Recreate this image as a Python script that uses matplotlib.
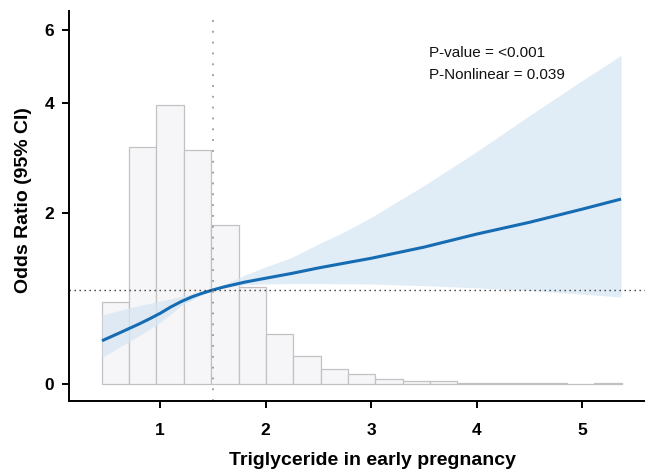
import numpy as np
import matplotlib
matplotlib.use("Agg")
import matplotlib.pyplot as plt

plt.rcParams['font.family'] = ['Liberation Sans', 'DejaVu Sans']

# ---- data ----
tg_x = [0.45, 0.60, 0.80, 0.90, 1.00, 1.10, 1.20, 1.30, 1.40, 1.50, 1.60, 1.80,
        2.00, 2.25, 2.50, 2.75, 3.00, 3.50, 4.00, 4.50, 5.00, 5.37]
or_fit = [0.462, 0.537, 0.639, 0.694, 0.752, 0.819, 0.877, 0.926, 0.966, 1.000,
          1.038, 1.101, 1.152, 1.215, 1.285, 1.348, 1.410, 1.554, 1.723, 1.875,
          2.064, 2.249]
or_upper = [0.735, 0.779, 0.834, 0.858, 0.882, 0.906, 0.931, 0.962, 0.990, 1.000,
            1.067, 1.191, 1.298, 1.423, 1.594, 1.755, 1.938, 2.494, 3.115, 3.773,
            4.617, 5.307]
or_lower = [0.284, 0.384, 0.514, 0.584, 0.654, 0.743, 0.832, 0.893, 0.947, 1.000,
            1.026, 1.067, 1.078, 1.084, 1.083, 1.081, 1.078, 1.057, 1.028, 0.996,
            0.957, 0.926]

hist_min, hist_max = 0.447, 5.376
hist_counts = [164, 475, 558, 468, 319, 195, 100, 57, 31, 20, 11, 6, 7, 3, 2, 2, 2, 1, 2]

ref_x = 1.5
ref_or = 1.0
x_ticks = [1, 2, 3, 4, 5]
y_ticks = [0, 2, 4, 6]
p_texts = ["P-value = <0.001", "P-Nonlinear = 0.039"]
xlabel = "Triglyceride in early pregnancy"
ylabel = "Odds Ratio (95% CI)"

# ---- y-axis scale (non-linear OR axis as in the reference) ----
K_OR = np.array([0.0, 1.0, 2.0, 4.0, 6.0])
K_H = np.array([0.0, 94.3, 171.6, 281.0, 354.3])
s0 = (K_H[1] - K_H[0]) / (K_OR[1] - K_OR[0])
s1 = (K_H[-1] - K_H[-2]) / (K_OR[-1] - K_OR[-2])


def fwd(v):
    v = np.asarray(v, dtype=float)
    out = np.interp(v, K_OR, K_H)
    out = np.where(v < K_OR[0], v * s0, out)
    out = np.where(v > K_OR[-1], K_H[-1] + (v - K_OR[-1]) * s1, out)
    return out


def inv(h):
    h = np.asarray(h, dtype=float)
    out = np.interp(h, K_H, K_OR)
    out = np.where(h < K_H[0], h / s0, out)
    out = np.where(h > K_H[-1], K_OR[-1] + (h - K_H[-1]) / s1, out)
    return out


W, H = 645, 472
fig = plt.figure(figsize=(W / 100, H / 100), dpi=100)
ax_l, ax_r, ax_b, ax_t = 69.3, 645.0, 401.0, 11.0
ax = fig.add_axes([ax_l / W, 1 - ax_b / H, (ax_r - ax_l) / W, (ax_b - ax_t) / H])
ax_h = ax.twinx()
ax.set_zorder(ax_h.get_zorder() + 1)
ax.patch.set_visible(False)

# histogram
edges = np.linspace(hist_min, hist_max, len(hist_counts) + 1)
ax_h.bar(edges[:-1], hist_counts, width=np.diff(edges), align='edge',
         color='#f6f5f7', edgecolor='#c2c2c2', linewidth=0.9)
ax_h.set_ylim(-33.4, 746.6)
ax_h.set_yticks([])
for s in ax_h.spines.values():
    s.set_visible(False)

# curve
ax.set_yscale('function', functions=(fwd, inv))
ax.fill_between(tg_x, or_lower, or_upper, color='#d6e6f4', alpha=0.75, linewidth=0)
ax.plot(tg_x, or_fit, color='#166cb2', linewidth=2.2, solid_capstyle='butt',
        solid_joinstyle='round')

ax.axhline(ref_or, color='#333333', linewidth=1.0, linestyle=(0, (1, 2.6)))
ax.axvline(ref_x, color='#9a9a9a', linewidth=1.3, linestyle=(0, (1, 5)))

ax.set_xlim(0.140, 5.597)
ax.set_ylim(-0.177, 6.518)
ax.set_xticks(x_ticks)
ax.set_yticks(y_ticks)
ax.set_yticks([], minor=True)
ax.set_xticklabels([str(t) for t in x_ticks])
ax.set_yticklabels([str(t) for t in y_ticks])

for side in ['top', 'right']:
    ax.spines[side].set_visible(False)
for side in ['left', 'bottom']:
    ax.spines[side].set_linewidth(1.4)
    ax.spines[side].set_color('black')

ax.tick_params(axis='both', direction='out', length=5, width=1.4, colors='black',
               labelsize=12.5)
ax.tick_params(axis='x', pad=11)
ax.tick_params(axis='y', pad=6)
for lab in ax.get_xticklabels() + ax.get_yticklabels():
    lab.set_fontweight('bold')

ax.set_xlabel(xlabel, fontsize=14, fontweight='bold')
ax.xaxis.set_label_coords((372.5 - ax_l) / (ax_r - ax_l), -(452.0 - ax_b) / (ax_b - ax_t))
ax.set_ylabel(ylabel, fontsize=14, fontweight='bold')
ax.yaxis.set_label_coords((32.0 - ax_l) / (ax_r - ax_l), (ax_b - 200.0) / (ax_b - ax_t))

fig.text(429 / W, 1 - 56.7 / H, p_texts[0], fontsize=11, va='baseline', ha='left', color='#111111')
fig.text(429 / W, 1 - 79.0 / H, p_texts[1], fontsize=11, va='baseline', ha='left', color='#111111')

fig.savefig("out.png", dpi=100, facecolor='white')
